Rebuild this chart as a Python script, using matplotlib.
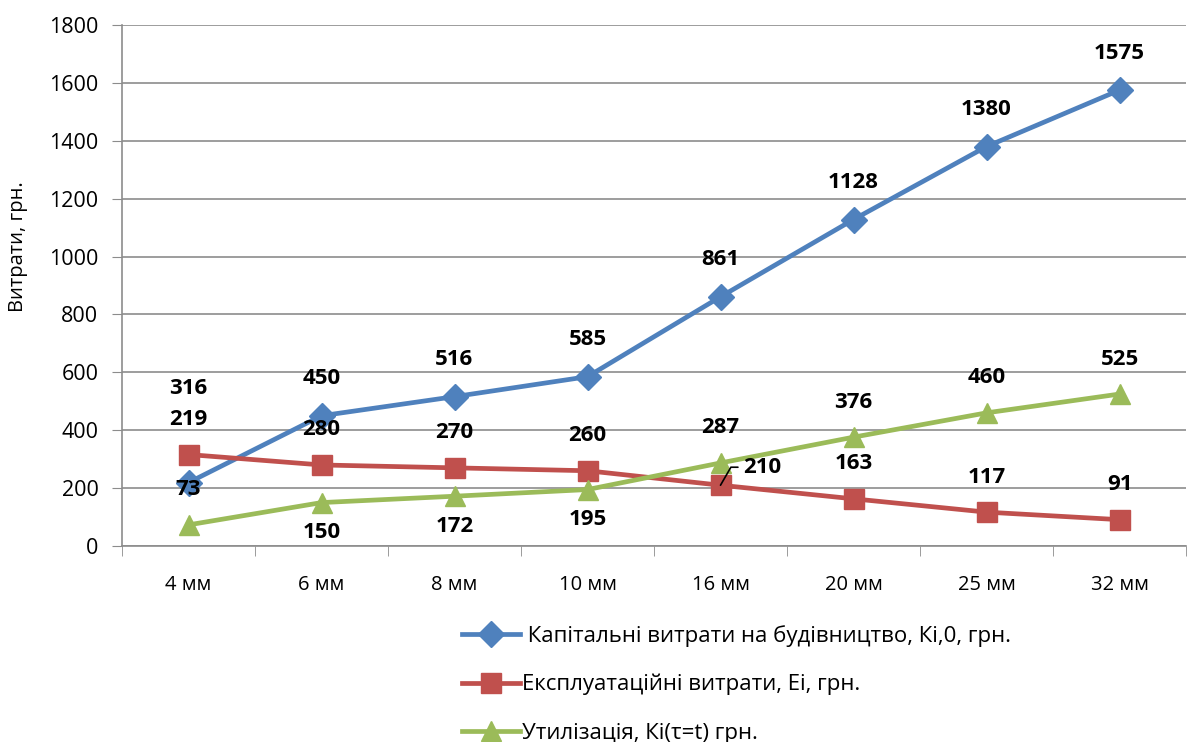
import matplotlib
matplotlib.use("Agg")
import matplotlib.pyplot as plt
from matplotlib.lines import Line2D

plt.rcParams['font.family'] = ['Open Sans', 'DejaVu Sans']

categories = ["4 мм", "6 мм", "8 мм", "10 мм", "16 мм", "20 мм", "25 мм", "32 мм"]
capital = [219, 450, 516, 585, 861, 1128, 1380, 1575]
operating = [316, 280, 270, 260, 210, 163, 117, 91]
disposal = [73, 150, 172, 195, 287, 376, 460, 525]

series_names = [
    " Капітальні витрати на будівництво, Кі,0, грн.",
    "Експлуатаційні витрати, Еі, грн.",
    "Утилізація, Кі(τ=t) грн.",
]
y_label = "Витрати, грн."
y_ticks = [0, 200, 400, 600, 800, 1000, 1200, 1400, 1600, 1800]

blue = "#4F81BD"
red = "#C0504D"
green = "#9BBB59"
grid_col = "#8C8C8C"

fig = plt.figure(figsize=(11.9, 7.42), dpi=100)
ax = fig.add_axes([122 / 1190, 1 - 546 / 742, (1186 - 122) / 1190, (546 - 25) / 742])

x = list(range(len(categories)))
ax.plot(x, capital, color=blue, lw=3.4, marker="D", ms=13, zorder=3)
ax.plot(x, operating, color=red, lw=3.4, marker="s", ms=14, zorder=3)
ax.plot(x, disposal, color=green, lw=3.4, marker="^", ms=14, zorder=4)

ax.set_xlim(-0.5, len(categories) - 0.5)
ax.set_ylim(0, 1800)
ax.set_yticks(y_ticks)
ax.set_xticks(x)
ax.set_xticklabels(categories)
ax.set_xticks([i - 0.5 for i in range(len(categories) + 1)], minor=True)
ax.tick_params(axis="x", which="major", length=0, pad=21, labelsize=14.5)
ax.tick_params(axis="x", which="minor", length=7, color=grid_col, direction="out")
ax.tick_params(axis="y", length=7, color=grid_col, labelsize=15.5, pad=10)
ax.yaxis.grid(True, color=grid_col, lw=1.2)
ax.set_axisbelow(True)
for s in ["top", "right"]:
    ax.spines[s].set_visible(False)
for s in ["left", "bottom"]:
    ax.spines[s].set_color(grid_col)
    ax.spines[s].set_linewidth(1.2)

fig.text(18 / 1190, 1 - 247 / 742, y_label, rotation=90, ha="center", va="center", fontsize=14.5)

lbl = dict(ha="center", va="center", fontsize=16, fontweight="bold",
           textcoords="offset pixels", zorder=5)

def label(xi, v, dy, dx=0):
    ax.annotate(f"{v}", (xi, v), xytext=(dx, dy), **lbl)

# capital costs: all above
for i, v in enumerate(capital):
    label(i, v, 63 if i == 0 else 37)

# operating costs: above, with a leader for the crossing point
for i, v in enumerate(operating):
    if i == 0:
        label(i, v, 66)
    elif i == 4:
        ax.annotate(f"{v}", (i, v), xytext=(23, 18), textcoords="offset pixels",
                    ha="left", va="center", fontsize=16, fontweight="bold", zorder=5,
                    arrowprops=dict(arrowstyle="-", color="black", lw=1.2,
                                    connectionstyle="angle,angleA=0,angleB=60,rad=0",
                                    relpos=(0, 0.5), shrinkA=2, shrinkB=0))
    else:
        label(i, v, 35)

# disposal: below for the small values, above otherwise
for i, v in enumerate(disposal):
    if i in (1, 2, 3):
        label(i, v, -30)
    else:
        label(i, v, 35)

handles = [
    Line2D([], [], color=blue, lw=3.4, marker="D", ms=13),
    Line2D([], [], color=red, lw=3.4, marker="s", ms=14),
    Line2D([], [], color=green, lw=3.4, marker="^", ms=14),
]
fig.legend(handles, series_names, loc="upper left",
           bbox_to_anchor=(462 / 1190, 1 - 625 / 742), frameon=False,
           borderpad=0, borderaxespad=0,
           fontsize=16, handlelength=2.6, handletextpad=0.1, labelspacing=1.22)

fig.savefig("out.png", dpi=100)
